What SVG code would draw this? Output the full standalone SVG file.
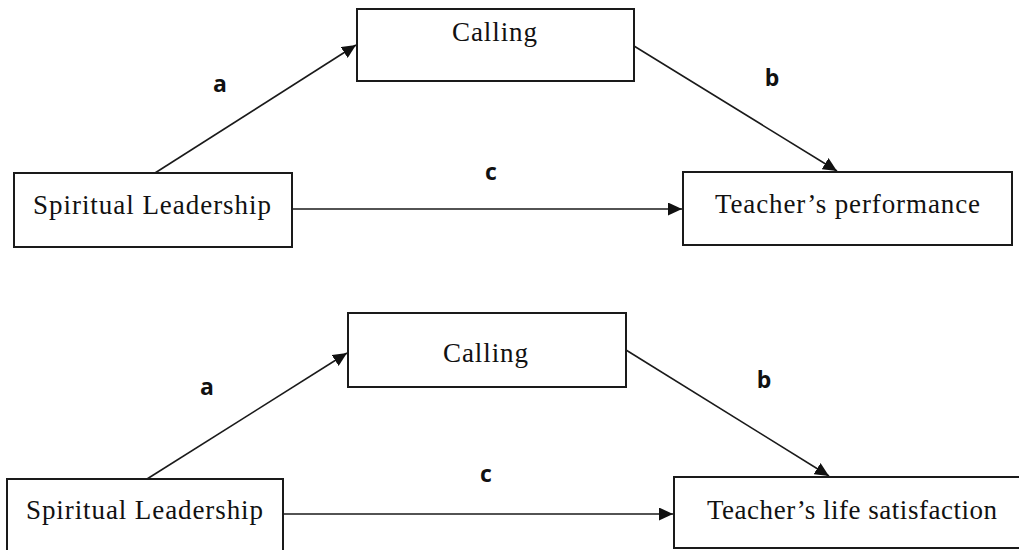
<svg xmlns="http://www.w3.org/2000/svg" width="1019" height="550" viewBox="0 0 1019 550">
<style>
.box{fill:#fff;stroke:#1a1a1a;stroke-width:2}
.nt{font-family:"Liberation Serif","Times New Roman",serif;font-size:27px;fill:#111;text-anchor:middle}
.lb{font-family:"Open Sans","Liberation Sans",sans-serif;font-weight:bold;font-size:23px;fill:#111;text-anchor:middle}
.ln{stroke:#1a1a1a;stroke-width:1.6;fill:none;marker-end:url(#ah)}
</style>
<defs>
<marker id="ah" markerUnits="userSpaceOnUse" markerWidth="15" markerHeight="13" refX="14" refY="6.5" orient="auto">
<path d="M0,0 L14,6.5 L0,13 z" fill="#111"/>
</marker>
</defs>
<rect width="1019" height="550" fill="#fff"/>
<g id="connectors">
<line class="ln" x1="155" y1="173" x2="356" y2="45"/>
<line class="ln" x1="634" y1="46" x2="837" y2="171"/>
<line class="ln" x1="292" y1="209" x2="682" y2="209"/>
<line class="ln" x1="147" y1="479" x2="347" y2="353"/>
<line class="ln" x1="626" y1="350" x2="829" y2="476"/>
<line class="ln" x1="283" y1="514" x2="673" y2="514"/>
</g>
<g id="labels">
<text class="lb" x="220" y="92">a</text>
<text class="lb" x="772" y="86">b</text>
<text class="lb" x="491" y="180">c</text>
<text class="lb" x="207" y="395">a</text>
<text class="lb" x="764" y="388">b</text>
<text class="lb" x="486" y="482">c</text>
</g>
<g id="calling1">
<rect class="box" x="357" y="9" width="277" height="72"/>
<text class="nt" x="494.5" y="41" textLength="85" lengthAdjust="spacing">Calling</text>
</g>
<g id="spiritual1">
<rect class="box" x="14" y="173" width="278" height="74"/>
<text class="nt" x="152" y="214" textLength="238" lengthAdjust="spacing">Spiritual Leadership</text>
</g>
<g id="performance">
<rect class="box" x="683" y="172" width="329" height="73"/>
<text class="nt" x="847.5" y="213" textLength="265" lengthAdjust="spacing">Teacher’s performance</text>
</g>
<g id="calling2">
<rect class="box" x="348" y="313" width="278" height="74"/>
<text class="nt" x="485.5" y="362" textLength="85" lengthAdjust="spacing">Calling</text>
</g>
<g id="spiritual2">
<rect class="box" x="7" y="479" width="276" height="76"/>
<text class="nt" x="144.5" y="519" textLength="237" lengthAdjust="spacing">Spiritual Leadership</text>
</g>
<g id="satisfaction">
<rect class="box" x="674" y="477" width="350" height="71"/>
<text class="nt" x="852" y="519" textLength="290" lengthAdjust="spacing">Teacher’s life satisfaction</text>
</g>
</svg>
